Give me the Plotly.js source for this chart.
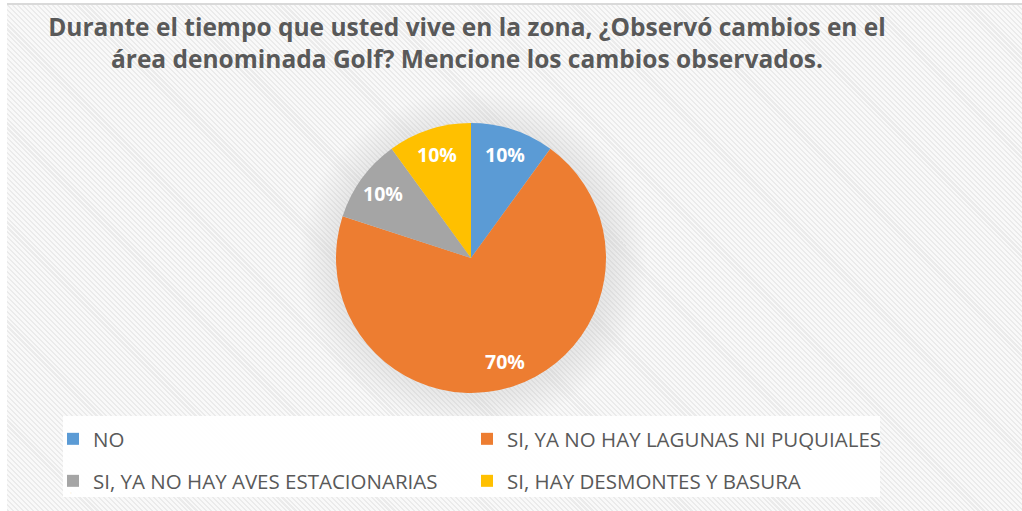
<!DOCTYPE html>
<html>
<head>
<meta charset="utf-8">
<script src="https://cdn.plot.ly/plotly-3.0.1.min.js"></script>
<style>
html,body{margin:0;padding:0;background:#ffffff;}
#wrap{position:absolute;left:0;top:0;width:1022px;height:511px;background:#ffffff;}
#bg{position:absolute;left:7px;top:3px;width:1015px;height:508px;
 border-top:2px solid #d9d9d9;
 background:
  radial-gradient(ellipse 175px 170px at 466px 255px, rgba(150,150,150,0.45) 0%, rgba(180,180,180,0.25) 80%, rgba(255,255,255,0) 100%),
  repeating-linear-gradient(45deg, #f9f9f9 0px, #f9f9f9 2px, #ebebeb 2px, #ebebeb 3.5px);}
#chart{position:absolute;left:0;top:0;width:1022px;height:511px;}
</style>
</head>
<body>
<div id="wrap"><div id="bg"></div><div id="chart"></div></div>
<script>
const categories = ["NO", "SI, YA NO HAY LAGUNAS NI PUQUIALES", "SI, YA NO HAY AVES ESTACIONARIAS", "SI, HAY DESMONTES Y BASURA"];
const values = [10, 70, 10, 10];
const colors = ["#5B9BD5", "#ED7D31", "#A5A5A5", "#FFC000"];
const titleText = "Durante el tiempo que usted vive en la zona, ¿Observó cambios en el<br>área denominada Golf? Mencione los cambios observados.";

const W = 1022, H = 511;
const cx = 471, cy = 258, r = 135;
const pieDomain = {x: [(cx - r) / W, (cx + r) / W], y: [(H - cy - r) / H, (H - cy + r) / H]};
const hiddenDomain = {x: [70 / W, 72 / W], y: [1 - 494 / H, 1 - 492 / H]};

// main pie (drawn by the library)
const mainPie = {
  type: "pie",
  labels: categories,
  values: values,
  sort: false,
  direction: "clockwise",
  rotation: 0,
  marker: {colors: colors, line: {color: "rgba(0,0,0,0)", width: 0}},
  textinfo: "none",
  hoverinfo: "label+percent",
  showlegend: false,
  domain: pieDomain
};

// legend rows: first two categories in legend, last two in legend2
function legendPie(idx, legendName) {
  return {
    type: "pie",
    labels: idx.map(i => categories[i]),
    values: idx.map(i => values[i]),
    sort: false,
    marker: {colors: idx.map(i => colors[i])},
    textinfo: "none",
    hoverinfo: "skip",
    showlegend: true,
    legend: legendName,
    domain: hiddenDomain
  };
}
const row1 = legendPie([0, 1], "legend");
const row2 = legendPie([2, 3], "legend2");

// percentage labels placed along each slice's mid-angle
const total = values.reduce((a, b) => a + b, 0);
const annotations = [];
let acc = 0;
values.forEach((v, i) => {
  const mid = (acc + v / 2) / total * 2 * Math.PI;
  acc += v;
  const rr = 0.81 * r;
  const px = cx + rr * Math.sin(mid);
  const py = cy - rr * Math.cos(mid);
  annotations.push({
    xref: "paper", yref: "paper", x: px / W, y: 1 - py / H,
    xanchor: "center", yanchor: "middle", showarrow: false,
    text: Math.round(v / total * 100) + "%",
    font: {family: "Open Sans, sans-serif", size: 19.5, color: "#ffffff", weight: "bold"}
  });
});

const legendCommon = {
  orientation: "h",
  xanchor: "left", yanchor: "top",
  entrywidth: 369, entrywidthmode: "pixels",
  traceorder: "normal",
  bgcolor: "rgba(0,0,0,0)",
  font: {family: "Open Sans, sans-serif", size: 20.5, color: "#595959"}
};

const layout = {
  width: W, height: H,
  margin: {l: 0, r: 0, t: 0, b: 0},
  paper_bgcolor: "rgba(0,0,0,0)",
  plot_bgcolor: "rgba(0,0,0,0)",
  title: {
    text: titleText,
    font: {family: "Open Sans, sans-serif", size: 24.5, color: "#595959", weight: "bold"},
    x: 467 / W, xanchor: "center",
    y: 1 - 36 / H, yanchor: "top"
  },
  showlegend: true,
  legend: Object.assign({x: 53 / W, y: 1 - 419 / H}, legendCommon),
  legend2: Object.assign({x: 53 / W, y: 1 - 461 / H}, legendCommon),
  annotations: annotations,
  shapes: [{
    type: "rect", xref: "paper", yref: "paper",
    x0: 63 / W, x1: 880 / W, y0: 1 - 497 / H, y1: 1 - 416 / H,
    fillcolor: "rgba(255,255,255,0.92)", line: {width: 0}, layer: "above"
  }]
};

Plotly.newPlot("chart", [row1, row2, mainPie], layout, {displayModeBar: false});
</script>
</body>
</html>
